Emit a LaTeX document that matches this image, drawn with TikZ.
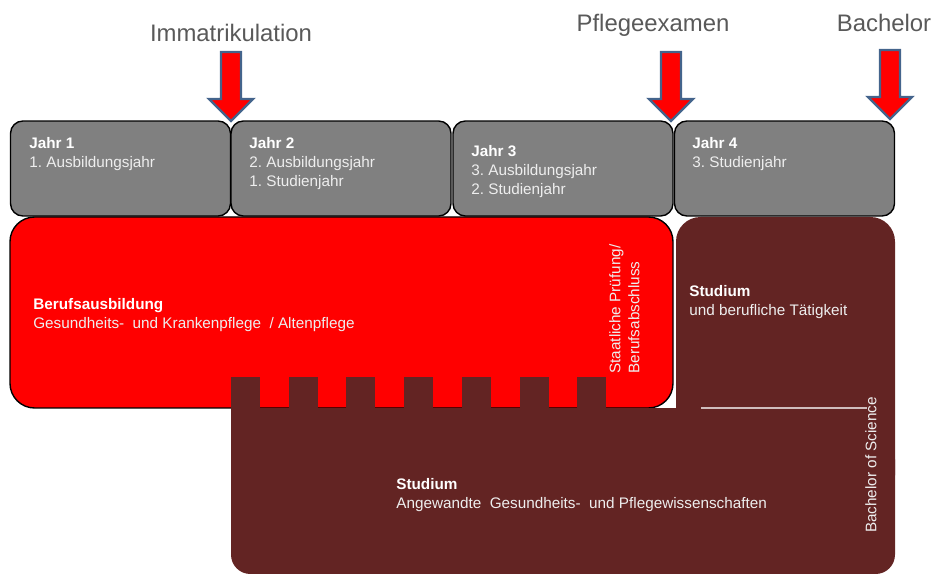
\documentclass[tikz,border=0pt]{standalone}
\usepackage{fontspec}
\setmainfont{Liberation Sans}
\frenchspacing
\usepackage{tikz}
\usetikzlibrary{positioning}
\definecolor{yeargray}{HTML}{808080}
\definecolor{ausbred}{HTML}{FF0000}
\definecolor{studbrown}{HTML}{632423}
\definecolor{labelgray}{HTML}{595959}
\definecolor{arrowblue}{HTML}{44648C}
\definecolor{softwhite}{HTML}{EEEEEE}
\tikzstyle{yearbox} = [rectangle, rounded corners=7pt, minimum width=4.4cm, minimum height=1.9cm, fill=yeargray, draw=black, line width=0.8pt]
\tikzstyle{boxtext} = [inner sep=0pt, align=left, text=softwhite, font=\fontsize{8.7}{10.8}\selectfont, anchor=north west]
\tikzstyle{milestone} = [inner sep=0pt, text=labelgray, font=\fontsize{13.6}{16}\selectfont, anchor=base]
\tikzstyle{markarrow} = [fill=ausbred, draw=arrowblue, line width=1.3pt, line join=miter]
\newcommand{\milearrow}[2]{\draw[markarrow] (#1,#2) -- ++(-22,-22) -- ++(12,0) -- ++(0,-47) -- ++(20,0) -- ++(0,47) -- ++(12,0) -- cycle;}

\begin{document}
\begin{tikzpicture}[x=0.02cm, y=-0.02cm] % one unit = one pixel of the sketch
\useasboundingbox (0,0) rectangle (934,574);

% Training block and study block
\draw [fill=ausbred, draw=black, line width=0.8pt, rounded corners=14pt] (10,217) rectangle (673,408);
\fill [studbrown] (231,408) -- (676,408) -- (676,480) -- (231,480) -- cycle;
\foreach \k in {0,...,6}
  \fill [studbrown] (231+57.7*\k,377) rectangle ++(29,31);
\fill [studbrown, rounded corners=11pt] (231,440) rectangle (895,574);
\fill [studbrown, rounded corners=14pt] (676,217) rectangle (895,500);
\draw [white!70!studbrown, line width=0.6pt] (701,408) -- (867,408);

% Place the year boxes
\node(jahr1)   [yearbox] at (120.5,168.5) {};
\node(jahr2)   [yearbox] at (341,168.5)   {};
\node(jahr3)   [yearbox] at (563,168.5)   {};
\node(jahr4)   [yearbox] at (784.5,168.5) {};

% Texts
\node(text1)   [boxtext] at (29,137)  {\textcolor{white}{\bfseries Jahr 1}\\1. Ausbildungsjahr};
\node(text2)   [boxtext] at (249,137) {\textcolor{white}{\bfseries Jahr 2}\\2. Ausbildungsjahr\\1. Studienjahr};
\node(text3)   [boxtext] at (471,145) {\textcolor{white}{\bfseries Jahr 3}\\3. Ausbildungsjahr\\2. Studienjahr};
\node(text4)   [boxtext] at (692,137) {\textcolor{white}{\bfseries Jahr 4}\\3. Studienjahr};
\node(ausbildung) [boxtext] at (33,298)  {\textcolor{white}{\bfseries Berufsausbildung}\\Gesundheits-~ und Krankenpflege~ / Altenpflege};
\node(taetigkeit) [boxtext] at (689,285) {\textcolor{white}{\bfseries Studium}\\und berufliche Tätigkeit};
\node(studium)    [boxtext] at (396,478) {\textcolor{white}{\bfseries Studium}\\Angewandte~ Gesundheits-~ und Pflegewissenschaften};
\node(pruefung)   [boxtext, rotate=90] at (609,374) {Staatliche Prüfung/\\Berufsabschluss};
\node(bsc)        [boxtext, rotate=90, anchor=center] at (871,465) {Bachelor of Science};

% Milestones
\node(immatrikulation) [milestone] at (231,42) {Immatrikulation};
\node(pflegeexamen)    [milestone] at (653,32) {Pflegeexamen};
\node(bachelor)        [milestone] at (884,32) {Bachelor};
\milearrow{231}{121}
\milearrow{671}{121}
\milearrow{890}{119}

\end{tikzpicture}
\end{document}
